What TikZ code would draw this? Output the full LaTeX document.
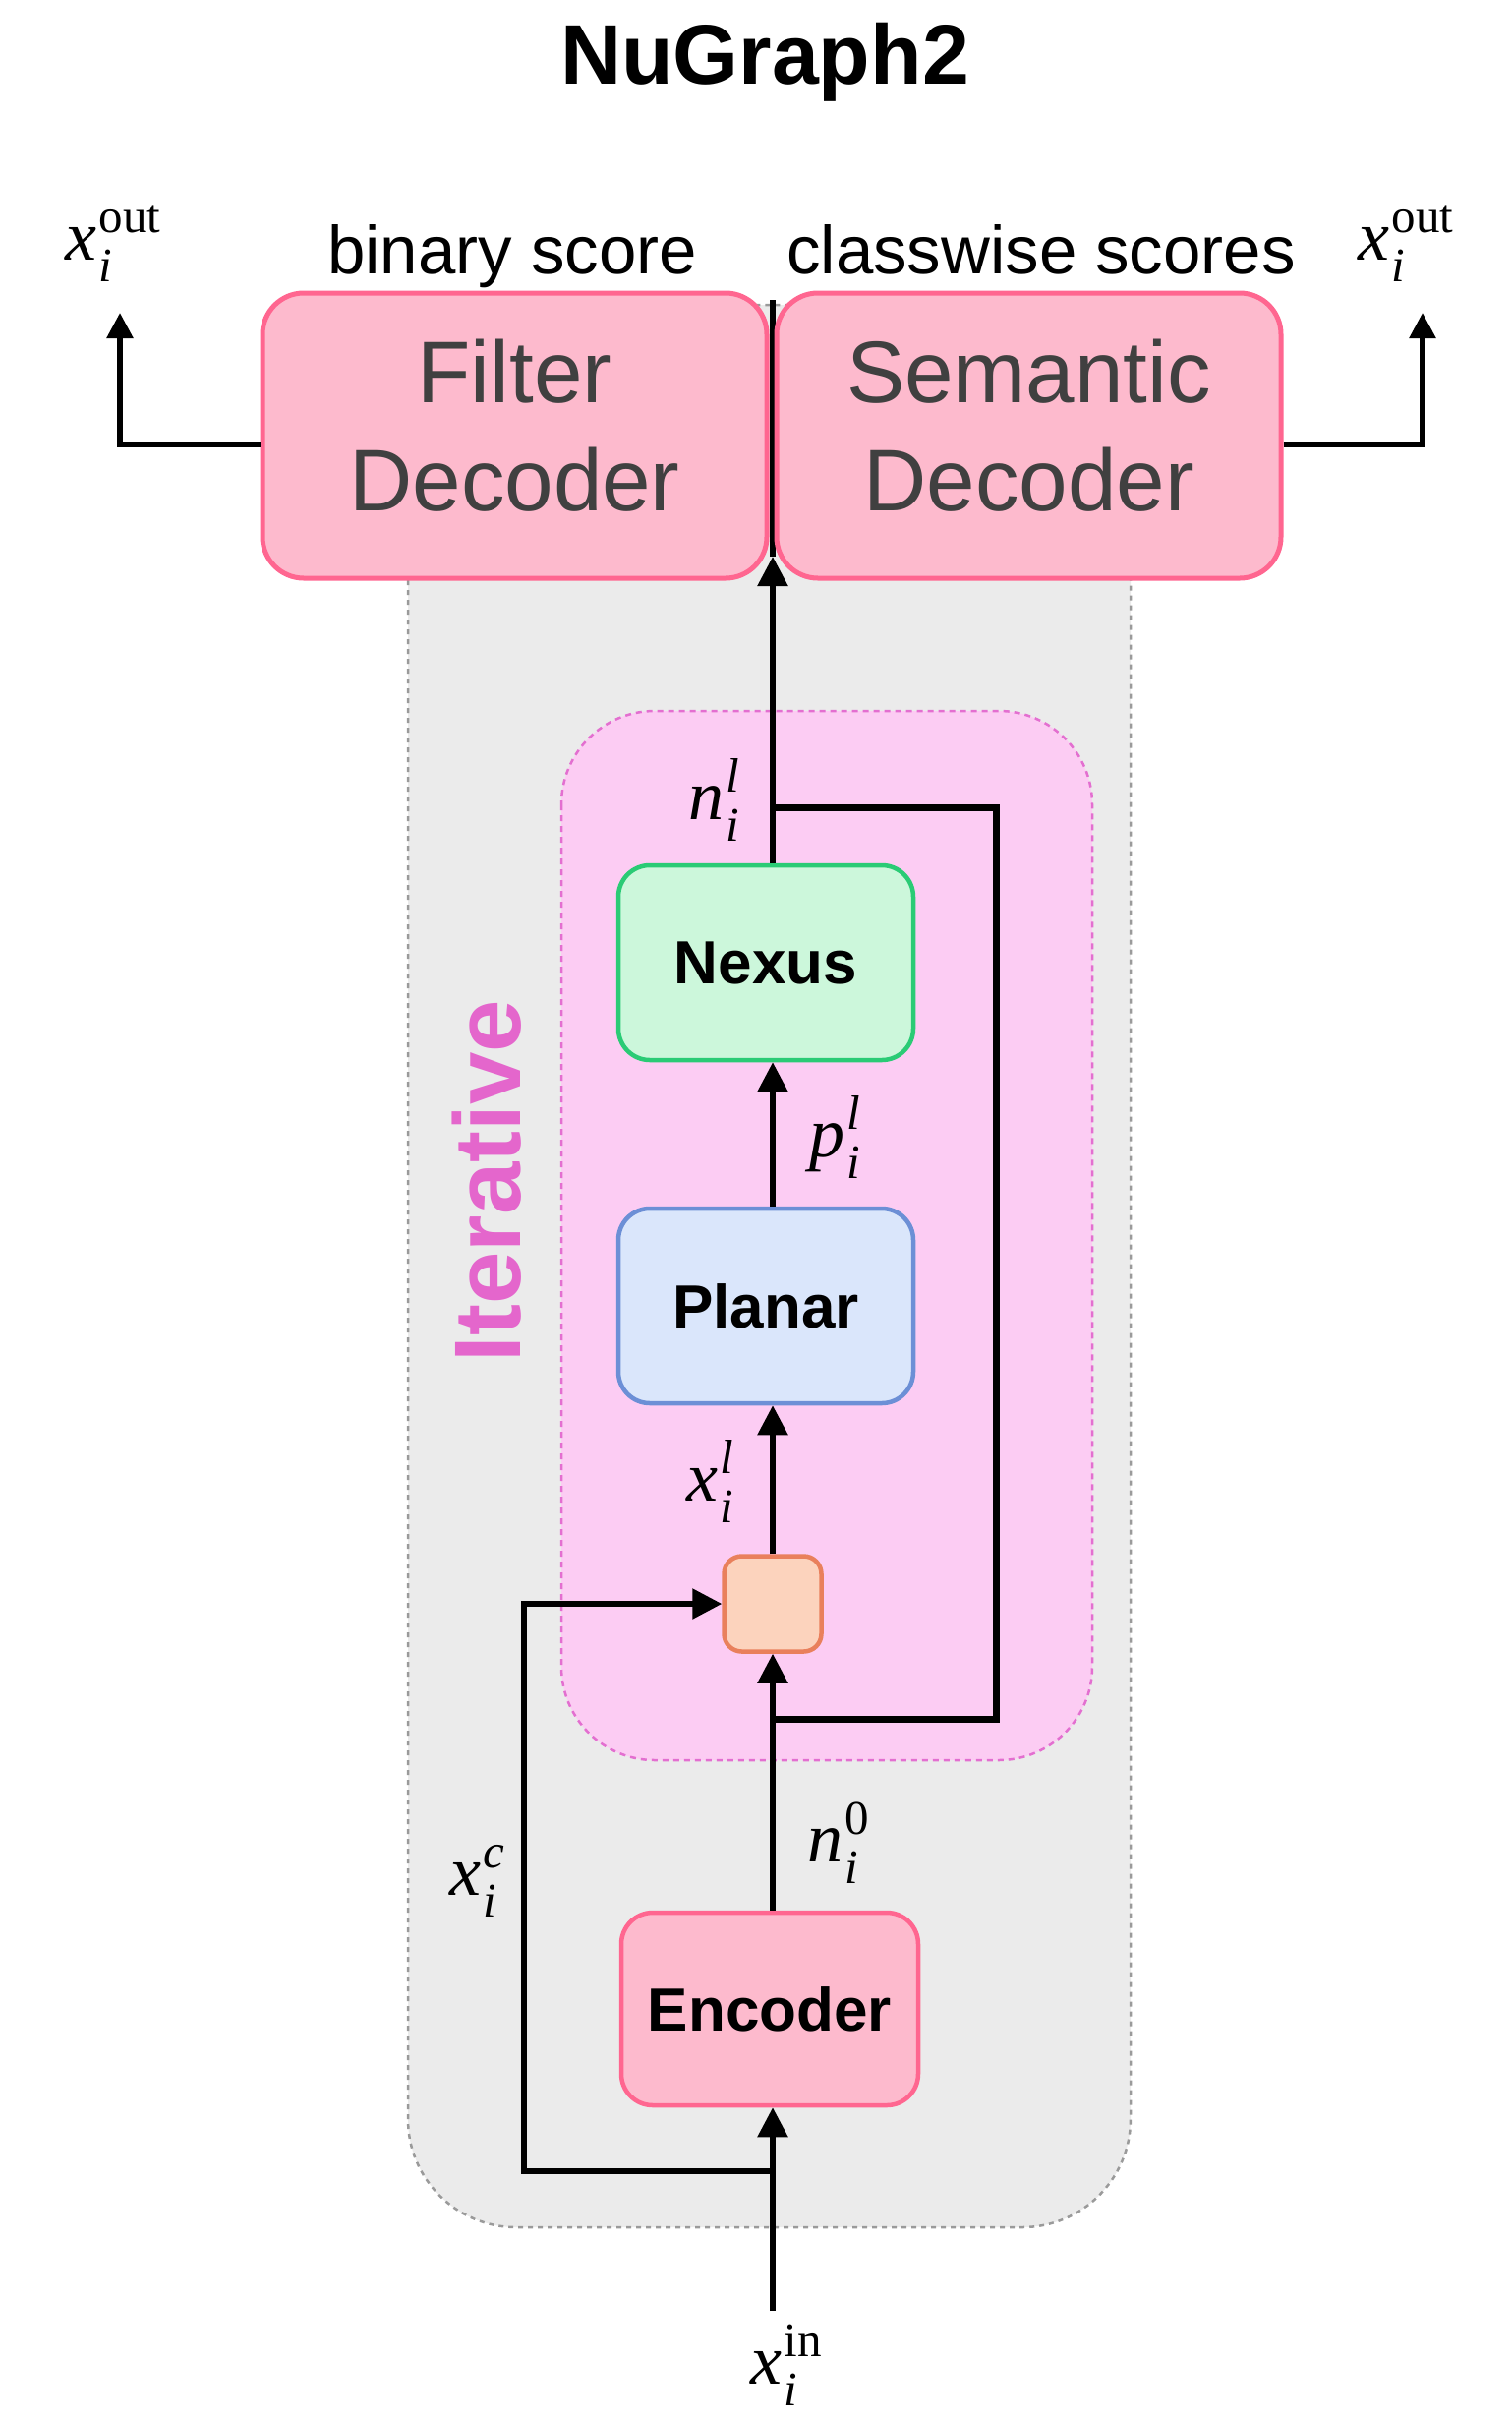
\documentclass[tikz,border=0pt]{standalone}
\usepackage{fontspec}
\setmainfont{Liberation Sans}
\newfontfamily\serifnt{Liberation Serif}
\usetikzlibrary{arrows.meta}
\definecolor{bgfill}{HTML}{EBEBEB}
\definecolor{bgdraw}{HTML}{9A9A9A}
\definecolor{itfill}{HTML}{FCCCF3}
\definecolor{itdraw}{HTML}{E36FD0}
\definecolor{itext}{HTML}{E466CC}
\definecolor{decfill}{HTML}{FDBACD}
\definecolor{decdraw}{HTML}{FF6690}
\definecolor{dectext}{HTML}{404040}
\definecolor{nexfill}{HTML}{CCF7DB}
\definecolor{nexdraw}{HTML}{2ACB75}
\definecolor{plafill}{HTML}{DAE6FB}
\definecolor{pladraw}{HTML}{6C8FD6}
\definecolor{orfill}{HTML}{FCD3BD}
\definecolor{ordraw}{HTML}{E9805C}
\newcommand\symb[3]{{\serifnt\fontsize{72}{74}\selectfont\itshape #1}\kern2pt\makebox[0pt][l]{\raisebox{-22pt}{\serifnt\fontsize{49}{49}\selectfont\itshape #2}}\raisebox{28pt}{\serifnt\fontsize{49}{49}\selectfont #3}}
\tikzset{
  box/.style={rectangle, rounded corners=32pt, line width=4.5pt, inner sep=0pt,
    font=\fontsize{62}{70}\selectfont\bfseries},
  decbox/.style={rectangle, rounded corners=42pt, line width=5pt, fill=decfill, draw=decdraw,
    minimum width=513pt, minimum height=290pt, inner sep=0pt, align=center, text depth=22pt,
    text=dectext, font=\fontsize{89}{110}\selectfont},
  conn/.style={line width=5.5pt, -{Triangle[length=30pt,width=30pt]}},
  outconn/.style={line width=5.5pt, -{Triangle[length=26pt,width=26pt]}},
  plain/.style={line width=5.5pt},
  loopline/.style={line width=7pt},
  mlab/.style={inner sep=0pt},
  toplab/.style={inner sep=0pt, anchor=base, font=\fontsize{69}{80}\selectfont},
}
\begin{document}
\begin{tikzpicture}[x=1pt,y=-1pt]
\useasboundingbox (0,0) rectangle (1538,2461);
% title
\node[inner sep=0pt, anchor=base, font=\fontsize{86}{90}\selectfont\bfseries] (title) at (778,85) {NuGraph2};
% backgrounds
\draw[fill=bgfill, draw=bgdraw, line width=2.5pt, dash pattern=on 5pt off 5pt, rounded corners=110pt]
  (415,310) rectangle (1150,2265);
\draw[fill=itfill, draw=itdraw, line width=2.5pt, dash pattern=on 6pt off 5pt, rounded corners=95pt]
  (571,723) rectangle (1111,1790);
\node[inner sep=0pt, rotate=90, text=itext, font=\fontsize{96}{100}\selectfont\bfseries] (iter) at (495,1201) {Iterative};
% boxes
\node[box, fill=nexfill, draw=nexdraw, minimum width=300pt, minimum height=198pt] (nexus) at (779,979) {Nexus};
\node[box, fill=plafill, draw=pladraw, minimum width=300pt, minimum height=198pt] (planar) at (779,1328) {Planar};
\node[box, fill=orfill, draw=ordraw, rounded corners=18pt, minimum width=99pt, minimum height=97pt] (mix) at (786,1631) {};
\node[box, fill=decfill, draw=decdraw, minimum width=302pt, minimum height=196pt] (encoder) at (783,2043) {Encoder};
% coordinates
\coordinate (dbot) at (786,566);
\coordinate (dtop) at (786,305);
\coordinate (lt) at (786,821);
\coordinate (lr1) at (1013,821);
\coordinate (lr2) at (1013,1748);
\coordinate (lb) at (786,1748);
\coordinate (sk0) at (786,2208);
\coordinate (sk1) at (533,2208);
\coordinate (sk2) at (533,1631);
\coordinate (inb) at (786,2350);
\coordinate (ol1) at (122,452);
\coordinate (ol2) at (122,318);
\coordinate (or1) at (1447,452);
\coordinate (or2) at (1447,318);
% hidden spine part
\draw[plain] (dbot) -- (dtop);
% decoders
\node[decbox] (filter) at (523.5,443) {Filter\\Decoder};
\node[decbox] (semantic) at (1046.5,443) {Semantic\\Decoder};
\node[toplab] (bs) at (521,278) {binary score};
\node[toplab] (cs) at (1059,278) {classwise scores};
% connectors
\draw[conn] (nexus.north -| lt) -- (dbot);
\draw[loopline] (lt) -- (lr1) -- (lr2) -- (lb);
\draw[conn] (encoder.north -| lt) -- (mix.south);
\draw[conn] (mix.north) -- (planar.south -| mix);
\draw[conn] (planar.north -| mix) -- (nexus.south -| mix);
\draw[conn] (inb) -- (encoder.south -| inb);
\draw[conn] (sk0) -- (sk1) -- (sk2) -- (mix.west);
\draw[outconn] (filter.west |- ol1) -- (ol1) -- (ol2);
\draw[outconn] (semantic.east |- or1) -- (or1) -- (or2);
% labels
\node[mlab] (xol) at (115,248) {\symb{x}{i}{out}};
\node[mlab] (xor) at (1430,248) {\symb{x}{i}{out}};
\node[mlab] (nl) at (726,813) {\symb{n}{i}{\itshape l}};
\node[mlab] (pl) at (849,1156) {\symb{p}{i}{\itshape l}};
\node[mlab] (xl) at (722,1506) {\symb{x}{i}{\itshape l}};
\node[mlab] (n0) at (853,1874) {\symb{n}{i}{0}};
\node[mlab] (xc) at (485,1913) {\symb{x}{i}{\itshape c}};
\node[mlab] (xin) at (800,2405) {\symb{x}{i}{in}};
\end{tikzpicture}
\end{document}
